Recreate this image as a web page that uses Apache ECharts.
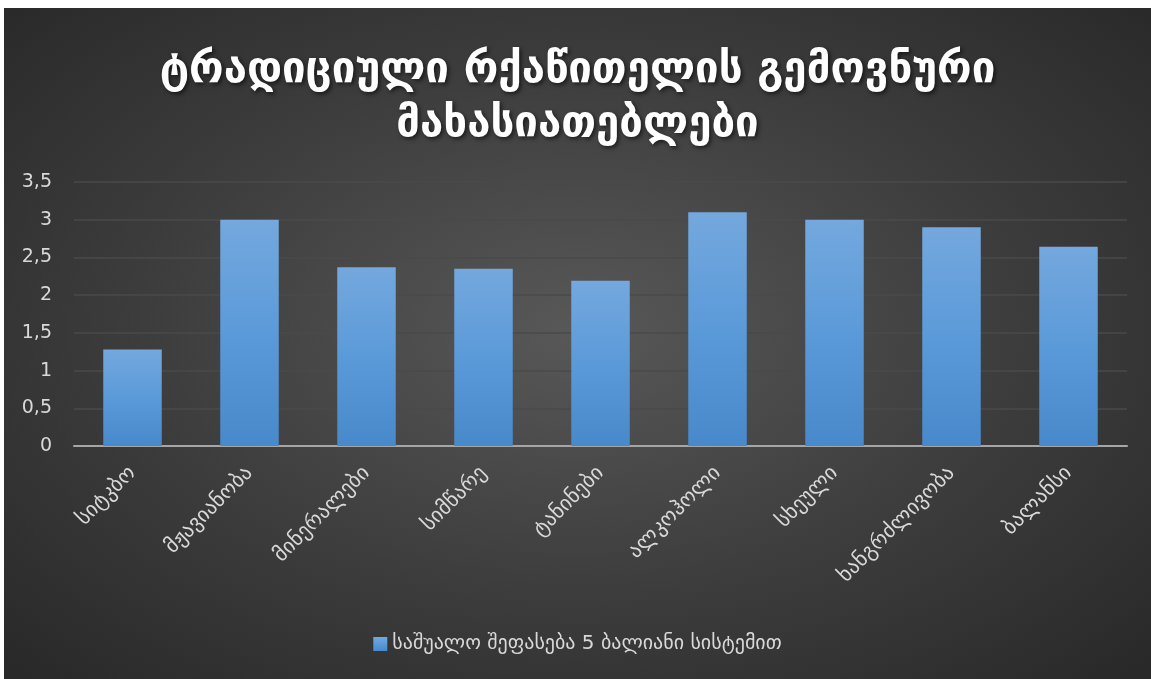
<!DOCTYPE html>
<html>
<head>
<meta charset="utf-8">
<script src="https://cdn.jsdelivr.net/npm/echarts@6/dist/echarts.min.js"></script>
<style>
  html, body { margin: 0; padding: 0; background: #fff; }
  #chart {
    position: absolute; left: 4px; top: 8px; width: 1147px; height: 671px;
    background: radial-gradient(ellipse at 50% 48%, #585858 0%, #3c3c3c 55%, #282828 100%);
  }
</style>
</head>
<body>
<div id="chart"></div>
<script>
const titleText = 'ტრადიციული რქაწითელის გემოვნური\nმახასიათებლები';
const seriesName = 'საშუალო შეფასება 5 ბალიანი სისტემით';
const categories = ['სიტკბო', 'მჟავიანობა', 'მინერალები', 'სიმწარე', 'ტანინები', 'ალკოჰოლი', 'სხეული', 'ხანგრძლივობა', 'ბალანსი'];
const values = [1.28, 3.0, 2.37, 2.35, 2.19, 3.1, 3.0, 2.9, 2.64];

const font = '"DejaVu Sans", sans-serif';
const chart = echarts.init(document.getElementById('chart'));
const option = {
    backgroundColor: 'transparent',
    textStyle: { fontFamily: font },
    title: {
        text: titleText,
        left: 'center',
        top: 31,
        textStyle: {
            color: '#ffffff',
            fontSize: 42,
            fontWeight: 'bold',
            lineHeight: 54,
            fontFamily: font,
            textShadowColor: 'rgba(0,0,0,0.6)',
            textShadowBlur: 4,
            textShadowOffsetX: 2,
            textShadowOffsetY: 2
        }
    },
    legend: {
        bottom: 20,
        left: 'center',
        itemWidth: 14,
        itemHeight: 14,
        icon: 'rect',
        itemGap: 6,
        textStyle: { color: '#d9d9d9', fontSize: 20, fontFamily: font }
    },
    grid: { left: 70, right: 24, top: 174, bottom: 233 },
    xAxis: {
        type: 'category',
        data: categories,
        axisLine: { lineStyle: { color: '#a6a6a6', width: 2 } },
        axisTick: { show: false },
        axisLabel: { rotate: 45, color: '#d9d9d9', fontSize: 21, margin: 24, fontFamily: font }
    },
    yAxis: {
        type: 'value',
        min: 0,
        max: 3.5,
        interval: 0.5,
        axisLine: { show: false },
        axisTick: { show: false },
        axisLabel: {
            color: '#d9d9d9', fontSize: 19, margin: 22, fontFamily: font,
            formatter: v => String(v).replace('.', ',')
        },
        splitLine: { lineStyle: { color: '#4a4a4a', width: 1.5 } }
    },
    series: [{
        name: seriesName,
        type: 'bar',
        data: values,
        barWidth: '50%',
        itemStyle: {
            color: new echarts.graphic.LinearGradient(0, 0, 0, 1, [
                { offset: 0, color: '#74a8de' },
                { offset: 0.5, color: '#5b9ad9' },
                { offset: 1, color: '#4889cb' }
            ]),
            shadowColor: 'rgba(0,0,0,0.45)',
            shadowBlur: 8,
            shadowOffsetX: 2,
            shadowOffsetY: 2
        }
    }]
};
chart.setOption(option);
</script>
</body>
</html>
